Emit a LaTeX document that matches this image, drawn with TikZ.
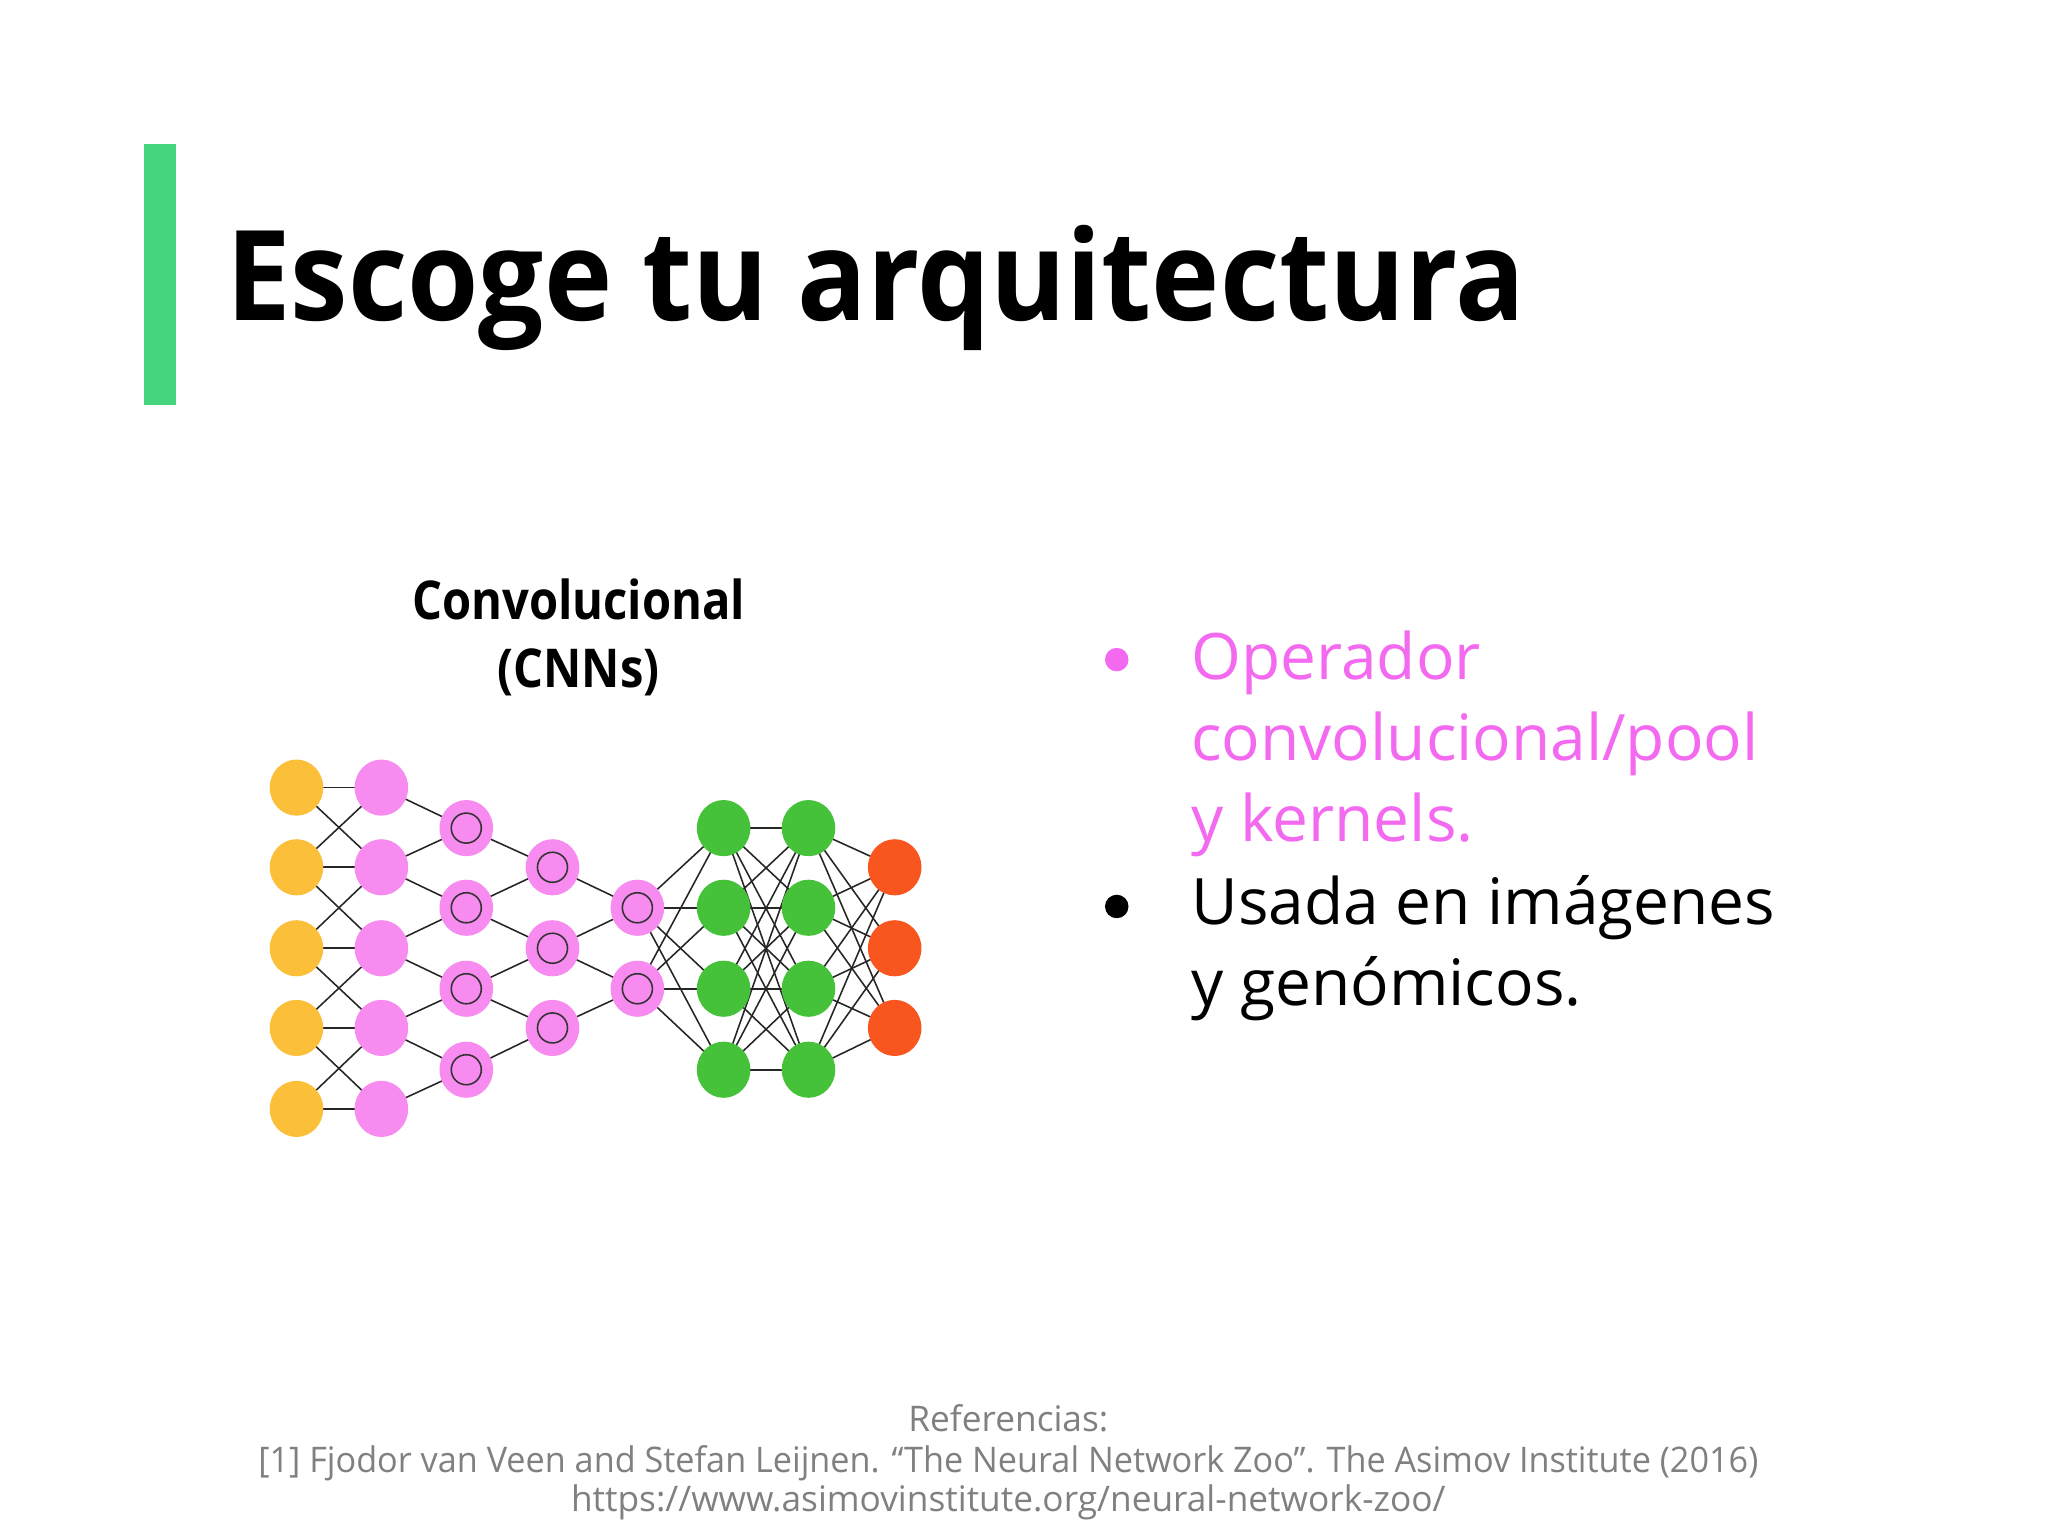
\documentclass[tikz,border=0pt]{standalone}
\usepackage{fontspec}
\setmainfont{Open Sans}
\usetikzlibrary{backgrounds,shapes.geometric}
\definecolor{barg}{HTML}{46D37E}
\definecolor{yel}{HTML}{FBBF3A}
\definecolor{pnk}{HTML}{F78BEF}
\definecolor{grn}{HTML}{45C23A}
\definecolor{rdo}{HTML}{F8561E}
\definecolor{mag}{HTML}{F36AF0}
\definecolor{gry}{HTML}{808080}
\tikzset{
 neur/.style={ellipse,minimum width=41pt,minimum height=43pt,inner sep=0pt},
 conv/.style={neur,fill=pnk,path picture={\draw[black!80,line width=1.2pt](path picture bounding box.center) circle (11.5pt);}},
 edge/.style={line width=1.2pt,black!85}
}
\begin{document}
\begin{tikzpicture}[x=1pt,y=-1pt]
\useasboundingbox (0,0) rectangle (1568,1176);
\fill[barg] (110,110) rectangle (135,310);
\node[anchor=base west,inner sep=0pt,font=\fontsize{96}{100}\selectfont\bfseries] (title) at (173,245) {\scalebox{0.92}[1]{Escoge tu arquitectura}};
\node[align=center,inner sep=0pt,font=\fontsize{41}{52}\selectfont\bfseries] (cap) at (443,488) {\scalebox{0.88}[1]{Convolucional}\\\scalebox{0.88}[1]{(CNNs)}};
% layers
\foreach \i/\y in {0/603,1/664,2/726,3/787,4/849}{
 \node[neur,fill=yel] (a\i) at (227,\y) {};
 \node[neur,fill=pnk] (b\i) at (292,\y) {};}
\foreach \i/\y in {0/634,1/695,2/757,3/819}{
 \node[conv] (c\i) at (357,\y) {};
 \node[neur,fill=grn] (f\i) at (554,\y) {};
 \node[neur,fill=grn] (g\i) at (619,\y) {};}
\foreach \i/\y in {0/664,1/726,2/787}{
 \node[conv] (d\i) at (423,\y) {};
 \node[neur,fill=rdo] (h\i) at (685,\y) {};}
\foreach \i/\y in {0/695,1/757}{
 \node[conv] (e\i) at (488,\y) {};}
\begin{scope}[on background layer]
\foreach \i in {0,...,4}{\draw[edge] (a\i.center)--(b\i.center);}
\foreach \i/\j in {0/1,1/2,2/3,3/4}{
 \draw[edge] (a\i.center)--(b\j.center); \draw[edge] (a\j.center)--(b\i.center);}
\foreach \j/\i/\k in {0/0/1,1/1/2,2/2/3,3/3/4}{
 \draw[edge] (c\j.center)--(b\i.center); \draw[edge] (c\j.center)--(b\k.center);}
\foreach \j/\i/\k in {0/0/1,1/1/2,2/2/3}{
 \draw[edge] (d\j.center)--(c\i.center); \draw[edge] (d\j.center)--(c\k.center);}
\foreach \j/\i/\k in {0/0/1,1/1/2}{
 \draw[edge] (e\j.center)--(d\i.center); \draw[edge] (e\j.center)--(d\k.center);}
\foreach \i in {0,1}{\foreach \j in {0,...,3}{\draw[edge] (e\i.center)--(f\j.center);}}
\foreach \i in {0,...,3}{\foreach \j in {0,...,3}{\draw[edge] (f\i.center)--(g\j.center);}}
\foreach \i in {0,...,3}{\foreach \j in {0,...,2}{\draw[edge] (g\i.center)--(h\j.center);}}
\end{scope}
% bullets
\fill[mag] (855,505) circle (9);
\fill[black] (855,694) circle (9);
\begin{scope}[font=\fontsize{49}{62}\selectfont]
\node[anchor=base west,inner sep=0pt,text=mag] (p1) at (912,520) {Operador};
\node[anchor=base west,inner sep=0pt,text=mag] (p2) at (912,582) {convolucional/pool};
\node[anchor=base west,inner sep=0pt,text=mag] (p3) at (912,644) {y kernels.};
\node[anchor=base west,inner sep=0pt] (q1) at (912,708) {Usada en imágenes};
\node[anchor=base west,inner sep=0pt] (q2) at (912,770) {y genómicos.};
\end{scope}
\begin{scope}[font=\fontsize{27}{31}\selectfont,text=gry]
\node[inner sep=0pt,anchor=base] (r1) at (772,1096) {Referencias:};
\node[inner sep=0pt,anchor=base] (r2) at (772,1127) {\scalebox{0.97}[1]{[1] Fjodor van Veen and Stefan Leijnen. “The Neural Network Zoo”. The Asimov Institute (2016)}};
\node[inner sep=0pt,anchor=base] (r3) at (772,1157) {https://www.asimovinstitute.org/neural-network-zoo/};
\end{scope}
\end{tikzpicture}
\end{document}
